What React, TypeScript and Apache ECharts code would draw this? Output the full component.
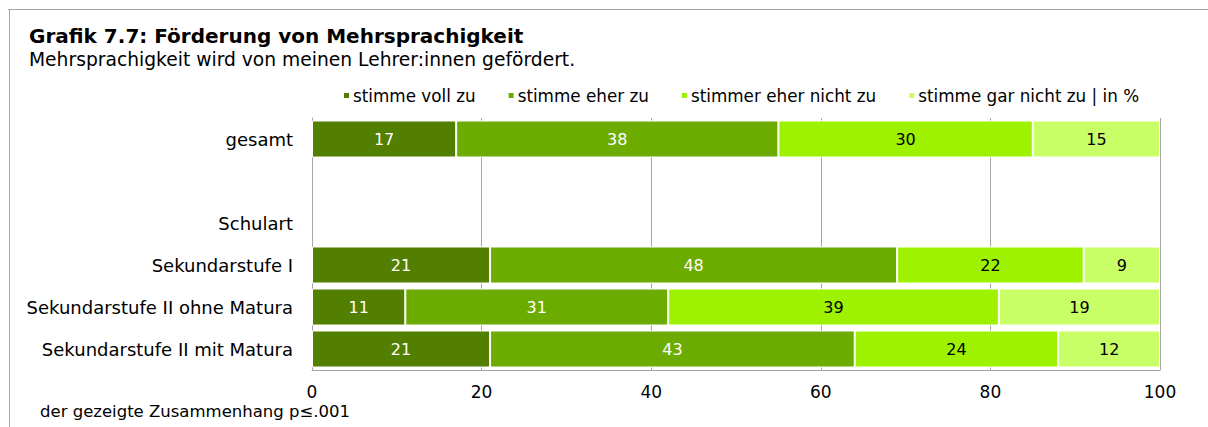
import React, { useEffect, useRef } from "react";
import * as echarts from "echarts";

const categories = [
  "gesamt",
  "",
  "Schulart",
  "Sekundarstufe I",
  "Sekundarstufe II ohne Matura",
  "Sekundarstufe II mit Matura",
];
const seriesNames = [
  "stimme voll zu",
  "stimme eher zu",
  "stimmer eher nicht zu",
  "stimme gar nicht zu | in %",
];
const vollZu = [17, null, null, 21, 11, 21];
const eherZu = [38, null, null, 48, 31, 43];
const eherNichtZu = [30, null, null, 22, 39, 24];
const garNichtZu = [15, null, null, 9, 19, 12];
const xTicks = [0, 20, 40, 60, 80, 100];

const colors = ["#537f00", "#6cab00", "#9ef200", "#c8ff66"];
const labelColors = ["#ffffff", "#ffffff", "#000000", "#000000"];
const FONT = "DejaVu Sans";

export default function App() {
  const ref = useRef<HTMLDivElement>(null);
  useEffect(() => {
    const chart = echarts.init(ref.current!, null, { renderer: "svg" });
    const values = [vollZu, eherZu, eherNichtZu, garNichtZu];
    chart.setOption({
      animation: false,
      textStyle: { fontFamily: FONT },
      title: {
        text: "Grafik 7.7: Förderung von Mehrsprachigkeit",
        subtext: "Mehrsprachigkeit wird von meinen Lehrer:innen gefördert.",
        left: 24,
        top: 21,
        itemGap: 4,
        textStyle: { fontFamily: FONT, fontSize: 20, fontWeight: "bold", color: "#000" },
        subtextStyle: { fontFamily: FONT, fontSize: 18.7, color: "#000" },
      },
      legend: {
        left: 337,
        top: 82,
        itemWidth: 7,
        itemHeight: 7,
        itemGap: 31,
        icon: "rect",
        textStyle: { fontFamily: FONT, fontSize: 16.8, color: "#000", padding: [0, 0, 0, -2] },
        data: seriesNames,
      },
      graphic: [
        { type: "line", shape: { x1: 8, y1: 9.5, x2: 1208, y2: 9.5 }, style: { stroke: "#a6a6a6", lineWidth: 1 } },
        { type: "line", shape: { x1: 9.5, y1: 9, x2: 9.5, y2: 427 }, style: { stroke: "#a6a6a6", lineWidth: 1 } },
        {
          type: "text",
          left: 40,
          top: 403,
          style: { text: "der gezeigte Zusammenhang p≤.001", font: `16.5px "${FONT}"`, fill: "#000" },
        },
      ],
      grid: { left: 312, right: 48, top: 118, bottom: 57, containLabel: false },
      xAxis: {
        type: "value",
        min: xTicks[0],
        max: xTicks[xTicks.length - 1],
        interval: 20,
        axisLine: { show: true, lineStyle: { color: "#a6a6a6", width: 1 } },
        axisTick: { show: false },
        axisLabel: { fontFamily: FONT, fontSize: 17, color: "#000", margin: 13 },
        splitLine: { show: true, lineStyle: { color: "#a6a6a6", width: 1 } },
      },
      yAxis: {
        type: "category",
        inverse: true,
        data: categories,
        axisLine: { show: true, lineStyle: { color: "#a6a6a6", width: 1 } },
        axisTick: { show: false },
        axisLabel: { fontFamily: FONT, fontSize: 18, color: "#000", margin: 19 },
      },
      series: seriesNames.map((name, i) => ({
        name,
        type: "bar",
        stack: "total",
        data: values[i],
        barWidth: 37,
        itemStyle: { color: colors[i], borderColor: "#ffffff", borderWidth: 1 },
        label: {
          show: true,
          position: "inside",
          color: labelColors[i],
          fontFamily: FONT,
          fontSize: 16,
        },
      })),
    });
    return () => chart.dispose();
  }, []);
  return (
    <div
      ref={ref}
      style={{ position: "fixed", left: 0, top: 0, width: 1208, height: 427, background: "#fff" }}
    />
  );
}
